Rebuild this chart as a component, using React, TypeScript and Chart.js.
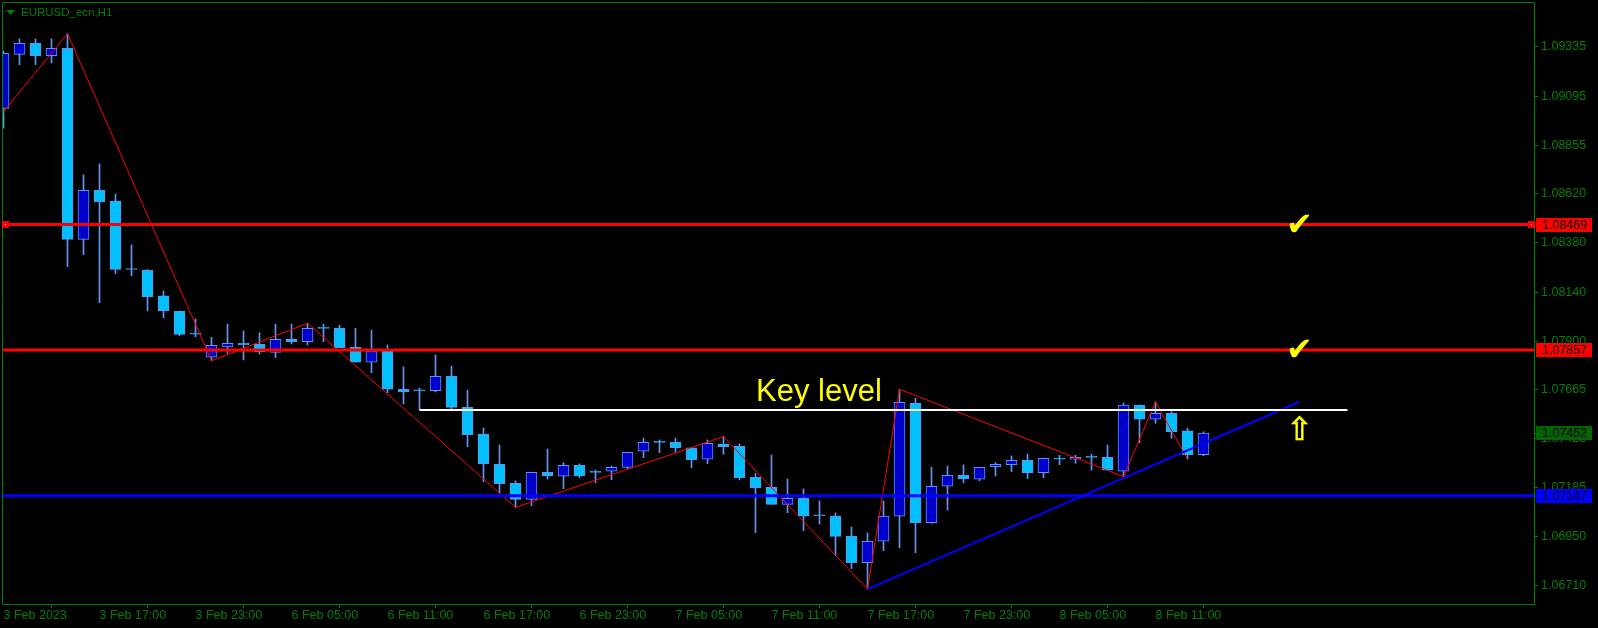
import { useEffect, useRef } from 'react';
import { Chart, registerables } from 'chart.js';

Chart.register(...registerables);

// ---------- data ----------
const OPEN = [
  1.09036, 1.09299, 1.09353, 1.09293, 1.09329, 1.08397, 1.08636, 1.08584, 1.08251, 1.08246,
  1.08121, 1.08046, 1.07935, 1.07822, 1.07873, 1.07890, 1.07885, 1.07846, 1.07910, 1.07898,
  1.07963, 1.07963, 1.07871, 1.07798, 1.07857, 1.07666, 1.07658, 1.07659, 1.07729, 1.07578,
  1.07446, 1.07300, 1.07207, 1.07129, 1.07261, 1.07242, 1.07295, 1.07261, 1.07266, 1.07285,
  1.07364, 1.07407, 1.07407, 1.07380, 1.07325, 1.07399, 1.07388, 1.07237, 1.07188, 1.07105,
  1.07134, 1.07049, 1.07047, 1.06949, 1.06820, 1.06925, 1.07047, 1.07598, 1.07015, 1.07193,
  1.07246, 1.07227, 1.07288, 1.07298, 1.07320, 1.07259, 1.07325, 1.07325, 1.07334, 1.07334,
  1.07266, 1.07589, 1.07520, 1.07549, 1.07463, 1.07347,
];
const HIGH = [
  1.09315, 1.09374, 1.09374, 1.09374, 1.09400, 1.08711, 1.08765, 1.08618, 1.08370, 1.08250,
  1.08145, 1.08048, 1.08009, 1.07919, 1.07984, 1.07950, 1.07942, 1.07984, 1.07984, 1.07988,
  1.07984, 1.07978, 1.07963, 1.07954, 1.07882, 1.07775, 1.07671, 1.07833, 1.07779, 1.07662,
  1.07477, 1.07394, 1.07219, 1.07261, 1.07375, 1.07308, 1.07302, 1.07272, 1.07292, 1.07359,
  1.07428, 1.07419, 1.07428, 1.07380, 1.07419, 1.07435, 1.07399, 1.07256, 1.07345, 1.07228,
  1.07180, 1.07121, 1.07063, 1.06994, 1.06965, 1.07121, 1.07666, 1.07622, 1.07285, 1.07292,
  1.07297, 1.07285, 1.07308, 1.07341, 1.07350, 1.07329, 1.07344, 1.07344, 1.07349, 1.07394,
  1.07599, 1.07589, 1.07605, 1.07557, 1.07476, 1.07459,
];
const LOW = [
  1.08939, 1.09249, 1.09249, 1.09258, 1.08264, 1.08322, 1.08088, 1.08230, 1.08220, 1.08048,
  1.08015, 1.07927, 1.07922, 1.07805, 1.07841, 1.07809, 1.07838, 1.07820, 1.07887, 1.07882,
  1.07898, 1.07869, 1.07798, 1.07747, 1.07649, 1.07594, 1.07565, 1.07653, 1.07570, 1.07386,
  1.07215, 1.07159, 1.07090, 1.07098, 1.07228, 1.07181, 1.07235, 1.07210, 1.07225, 1.07279,
  1.07332, 1.07357, 1.07359, 1.07284, 1.07303, 1.07349, 1.07224, 1.06967, 1.07105, 1.07064,
  1.06976, 1.07009, 1.06854, 1.06791, 1.06691, 1.06879, 1.06893, 1.06869, 1.07012, 1.07077,
  1.07210, 1.07220, 1.07243, 1.07264, 1.07230, 1.07235, 1.07298, 1.07305, 1.07271, 1.07272,
  1.07240, 1.07405, 1.07500, 1.07427, 1.07325, 1.07342,
];
const CLOSE = [
  1.09304, 1.09353, 1.09293, 1.09329, 1.08397, 1.08636, 1.08581, 1.08251, 1.08250, 1.08117,
  1.08049, 1.07934, 1.07935, 1.07880, 1.07890, 1.07883, 1.07849, 1.07910, 1.07898, 1.07963,
  1.07963, 1.07869, 1.07798, 1.07853, 1.07666, 1.07654, 1.07658, 1.07729, 1.07578, 1.07444,
  1.07303, 1.07206, 1.07129, 1.07261, 1.07244, 1.07295, 1.07244, 1.07261, 1.07285, 1.07359,
  1.07407, 1.07407, 1.07381, 1.07323, 1.07402, 1.07386, 1.07235, 1.07186, 1.07105, 1.07134,
  1.07047, 1.07049, 1.06949, 1.06820, 1.06925, 1.07047, 1.07602, 1.07015, 1.07193, 1.07246,
  1.07230, 1.07285, 1.07300, 1.07320, 1.07259, 1.07329, 1.07325, 1.07334, 1.07334, 1.07272,
  1.07589, 1.07520, 1.07549, 1.07459, 1.07347, 1.07452,
];

const ZIGZAG_IDX = [-1, 4, 13, 19, 32, 45, 54, 56, 70, 72, 74];
const ZIGZAG_VAL = [1.08924, 1.094, 1.07805, 1.07988, 1.0709, 1.07435, 1.06691, 1.07666, 1.0724, 1.07605, 1.07325];

const TREND_IDX = [54, 81];
const TREND_VAL = [1.06691, 1.07605];

const KEY_IDX = [26, 84];
const KEY_VAL = 1.07565;

const RED_LEVELS = [1.08469, 1.07857];
const BLUE_LEVEL = 1.07147;
const CURRENT_PRICE = 1.07452;

const Y_TICKS = [1.09335, 1.09095, 1.08855, 1.0862, 1.0838, 1.0814, 1.079, 1.07665, 1.07425, 1.07185, 1.0695, 1.0671];
const X_TICK_IDX = [0, 6, 12, 18, 24, 30, 36, 42, 48, 54, 60, 66, 72];
const X_LABELS = [
  '3 Feb 2023', '3 Feb 17:00', '3 Feb 23:00', '6 Feb 05:00', '6 Feb 11:00', '6 Feb 17:00',
  '6 Feb 23:00', '7 Feb 05:00', '7 Feb 11:00', '7 Feb 17:00', '7 Feb 23:00', '8 Feb 05:00', '8 Feb 11:00',
];

const X_MIN = -0.03125;
const X_MAX = 95.65625;
const Y_MIN = 1.0661885;
const Y_MAX = 1.0954956;

const MARK_IDX = 81;

// ---------- styles ----------
const GREEN = '#008000';
const BULL = '#0000CD';
const BEAR = '#00BFFF';
const WICK = '#6495ED';
const AXIS_FONT = { family: 'Liberation Sans', size: 12.5 };

const overlayPlugin = {
  id: 'mtOverlay',
  beforeDraw(chart: any) {
    const ctx = chart.ctx;
    ctx.save();
    ctx.fillStyle = '#000000';
    ctx.fillRect(0, 0, chart.width, chart.height);
    ctx.restore();
  },
  afterDraw(chart: any) {
    const { ctx, chartArea } = chart;
    const x = chart.scales.x;
    const y = chart.scales.y;
    ctx.save();

    // top and left frame
    ctx.strokeStyle = GREEN;
    ctx.lineWidth = 1;
    ctx.beginPath();
    ctx.moveTo(2.5, chartArea.bottom + 0.5);
    ctx.lineTo(2.5, 2.5);
    ctx.lineTo(chartArea.right + 0.5, 2.5);
    ctx.stroke();

    // title
    ctx.fillStyle = GREEN;
    ctx.beginPath();
    ctx.moveTo(6, 10);
    ctx.lineTo(15, 10);
    ctx.lineTo(10.5, 15);
    ctx.closePath();
    ctx.fill();
    ctx.font = '11.5px "Liberation Sans"';
    ctx.textBaseline = 'middle';
    ctx.textAlign = 'left';
    ctx.fillText('EURUSD_ecn,H1', 21, 13);

    // current price tick on the axis
    const cp = Math.round(y.getPixelForValue(CURRENT_PRICE));
    ctx.fillRect(chartArea.right, cp, 4, 1);

    // selection handles of the first red line
    const yr = Math.round(y.getPixelForValue(RED_LEVELS[0]));
    ctx.fillStyle = '#ff0000';
    ctx.fillRect(2, yr - 4, 7, 7);
    ctx.fillRect(chartArea.right - 6, yr - 4, 7, 7);
    ctx.fillStyle = '#ffffff';
    ctx.fillRect(5, yr - 1, 1, 1);
    ctx.fillRect(chartArea.right - 3, yr - 1, 1, 1);

    // Key level text
    ctx.fillStyle = '#ffff00';
    ctx.font = '31px "Liberation Sans"';
    ctx.textBaseline = 'alphabetic';
    ctx.textAlign = 'left';
    ctx.fillText('Key level', 756, 401);

    // check marks
    const mx = x.getPixelForValue(MARK_IDX);
    ctx.font = '32px "DejaVu Sans"';
    ctx.textAlign = 'center';
    ctx.textBaseline = 'alphabetic';
    RED_LEVELS.forEach((lv) => {
      ctx.fillText('\u2714', mx, y.getPixelForValue(lv) + 10);
    });

    // up arrow
    ctx.font = '32px "DejaVu Sans"';
    ctx.strokeStyle = '#ffff00';
    ctx.lineWidth = 0.7;
    ctx.fillText('\u21E7', mx, 440);
    ctx.strokeText('\u21E7', mx, 440);

    // price labels
    const boxes = [
      { v: RED_LEVELS[0], c: '#ff0000' },
      { v: RED_LEVELS[1], c: '#ff0000' },
      { v: CURRENT_PRICE, c: '#006400' },
      { v: BLUE_LEVEL, c: '#0000ff' },
    ];
    ctx.font = '12.5px "Liberation Sans"';
    ctx.textAlign = 'left';
    ctx.textBaseline = 'middle';
    boxes.forEach((b) => {
      const py = Math.round(y.getPixelForValue(b.v));
      ctx.fillStyle = b.c;
      ctx.fillRect(chartArea.right + 2, py - 7, 56, 14);
      ctx.fillStyle = '#000000';
      ctx.fillText(b.v.toFixed(5), chartArea.right + 8, py + 0.5);
    });

    ctx.restore();
  },
};

export default function App() {
  const ref = useRef<HTMLCanvasElement | null>(null);

  useEffect(() => {
    document.body.style.margin = '0';
    document.body.style.background = '#000';
    const canvas = ref.current;
    if (!canvas) return;

    const bodyData = OPEN.map((o, i) => ({ x: i, y: [o, CLOSE[i]] }));
    const wickData = HIGH.map((h, i) => ({ x: i, y: [LOW[i], h] }));
    const bodyColors = OPEN.map((o, i) => (CLOSE[i] > o ? BULL : BEAR));
    const hLine = (v: number) => [
      { x: X_MIN, y: v },
      { x: X_MAX, y: v },
    ];

    const lineCommon = { pointRadius: 0, tension: 0, fill: false, order: 0 };

    const chart = new Chart(canvas, {
      type: 'bar',
      data: {
        datasets: [
          { type: 'line', label: 'Red 1', data: hLine(RED_LEVELS[0]), borderColor: '#ff0000', borderWidth: 3, ...lineCommon } as any,
          { type: 'line', label: 'Red 2', data: hLine(RED_LEVELS[1]), borderColor: '#ff0000', borderWidth: 3, ...lineCommon } as any,
          { type: 'line', label: 'Blue', data: hLine(BLUE_LEVEL), borderColor: '#0000ff', borderWidth: 3, ...lineCommon } as any,
          {
            type: 'line', label: 'Key level',
            data: KEY_IDX.map((k) => ({ x: k, y: KEY_VAL })),
            borderColor: '#ffffff', borderWidth: 2, ...lineCommon,
          } as any,
          {
            type: 'line', label: 'Trend',
            data: TREND_IDX.map((k, i) => ({ x: k, y: TREND_VAL[i] })),
            borderColor: '#0000ff', borderWidth: 2, ...lineCommon,
          } as any,
          {
            type: 'line', label: 'ZigZag',
            data: ZIGZAG_IDX.map((k, i) => ({ x: k, y: ZIGZAG_VAL[i] })),
            borderColor: '#ff0000', borderWidth: 1, ...lineCommon,
          } as any,
          {
            type: 'bar', label: 'Body', data: bodyData as any,
            backgroundColor: bodyColors, borderColor: WICK, borderWidth: 1,
            borderSkipped: false, barThickness: 11, minBarLength: 1, grouped: false, order: 1,
          } as any,
          {
            type: 'bar', label: 'Wick', data: wickData as any,
            backgroundColor: WICK, borderWidth: 0, barThickness: 1, grouped: false, order: 2,
          } as any,
        ],
      },
      options: {
        animation: false,
        responsive: false,
        devicePixelRatio: 1,
        events: [],
        layout: { padding: { left: 3, top: 3, right: 0, bottom: 0 } },
        plugins: { legend: { display: false }, tooltip: { enabled: false } },
        scales: {
          x: {
            type: 'linear',
            min: X_MIN,
            max: X_MAX,
            offset: false,
            afterBuildTicks: (s: any) => {
              s.ticks = X_TICK_IDX.map((v) => ({ value: v }));
            },
            afterFit: (s: any) => {
              s.height = 24;
              s.paddingLeft = 0;
              s.paddingRight = 0;
              s.paddingTop = 0;
              s.paddingBottom = 0;
            },
            grid: { display: true, drawOnChartArea: false, drawTicks: true, tickLength: 4, color: GREEN },
            border: { display: true, color: GREEN },
            ticks: {
              color: GREEN,
              font: AXIS_FONT,
              padding: 0,
              align: 'start',
              maxRotation: 0,
              autoSkip: false,
              callback: (_v: any, i: number) => X_LABELS[i],
            },
          } as any,
          y: {
            type: 'linear',
            position: 'right',
            min: Y_MIN,
            max: Y_MAX,
            afterBuildTicks: (s: any) => {
              s.ticks = Y_TICKS.map((v) => ({ value: v }));
            },
            afterFit: (s: any) => {
              s.width = 64;
              s.paddingLeft = 0;
              s.paddingRight = 0;
              s.paddingTop = 0;
              s.paddingBottom = 0;
            },
            grid: { display: true, drawOnChartArea: false, drawTicks: true, tickLength: 4, color: GREEN },
            border: { display: true, color: GREEN },
            ticks: {
              color: GREEN,
              font: AXIS_FONT,
              padding: 3,
              autoSkip: false,
              callback: (v: any) => Number(v).toFixed(5),
            },
          } as any,
        },
      },
      plugins: [overlayPlugin],
    });

    return () => chart.destroy();
  }, []);

  return (
    <div style={{ position: 'absolute', left: 0, top: 0, width: 1598, height: 628, background: '#000' }}>
      <canvas ref={ref} width={1598} height={628} style={{ display: 'block', width: 1598, height: 628 }} />
    </div>
  );
}
